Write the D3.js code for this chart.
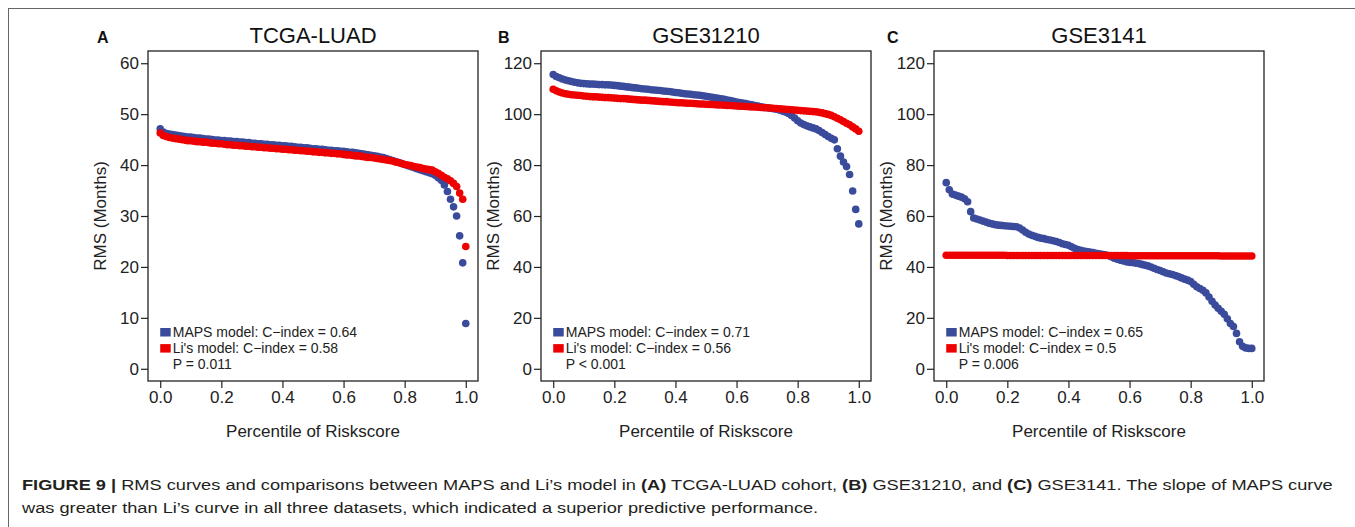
<!DOCTYPE html>
<html>
<head>
<meta charset="utf-8">
<script src="https://cdn.jsdelivr.net/npm/d3@7"></script>
<style>
body { margin: 0; background: #fff; }
text { font-family: "Liberation Sans", Arial, Helvetica, sans-serif; }
</style>
</head>
<body>
<div id="fig"></div>
<script>
// ------------------- DATA (RMS in months, one value per percentile 0.00 .. 1.00) -------------------

const tcgaMaps = [
  47.1, 46.5, 46.2, 46.1, 46.0, 45.9, 45.8, 45.7, 45.6, 45.5,
  45.5, 45.4, 45.3, 45.3, 45.2, 45.1, 45.1, 45.0, 44.9, 44.9,
  44.8, 44.8, 44.7, 44.7, 44.6, 44.6, 44.5, 44.5, 44.4, 44.4,
  44.3, 44.3, 44.2, 44.2, 44.1, 44.1, 44.0, 44.0, 43.9, 43.9,
  43.8, 43.8, 43.7, 43.7, 43.6, 43.5, 43.5, 43.4, 43.4, 43.3,
  43.2, 43.2, 43.1, 43.1, 43.0, 42.9, 42.9, 42.8, 42.8, 42.7,
  42.7, 42.6, 42.5, 42.5, 42.4, 42.3, 42.2, 42.1, 42.0, 41.9,
  41.8, 41.7, 41.6, 41.5, 41.3, 41.1, 40.9, 40.7, 40.5, 40.3,
  40.1, 39.9, 39.7, 39.5, 39.3, 39.1, 38.9, 38.7, 38.5, 38.3,
  38.0, 37.5, 37.0, 36.1, 34.8, 33.3, 31.8, 30.0, 26.1, 20.8,
  8.9
];
const tcgaLi = [
  46.3, 45.8, 45.6, 45.4, 45.3, 45.2, 45.1, 45.0, 44.9, 44.8,
  44.8, 44.7, 44.6, 44.6, 44.5, 44.5, 44.4, 44.3, 44.3, 44.2,
  44.2, 44.1, 44.0, 44.0, 43.9, 43.9, 43.8, 43.8, 43.7, 43.7,
  43.6, 43.6, 43.5, 43.5, 43.4, 43.4, 43.3, 43.3, 43.2, 43.2,
  43.1, 43.1, 43.0, 43.0, 42.9, 42.9, 42.8, 42.8, 42.7, 42.7,
  42.6, 42.6, 42.5, 42.5, 42.4, 42.4, 42.3, 42.3, 42.2, 42.2,
  42.1, 42.0, 42.0, 41.9, 41.8, 41.8, 41.7, 41.6, 41.5, 41.5,
  41.4, 41.3, 41.2, 41.1, 41.0, 40.9, 40.8, 40.6, 40.5, 40.3,
  40.1, 40.0, 39.9, 39.7, 39.6, 39.5, 39.3, 39.2, 39.1, 39.0,
  38.7, 38.4, 38.0, 37.6, 37.3, 36.9, 36.4, 35.8, 34.5, 33.3,
  24.0
];
const gse31210Maps = [
  115.6, 114.8, 114.3, 113.8, 113.4, 113.1, 112.8, 112.5, 112.3, 112.1,
  112.0, 111.9, 111.8, 111.8, 111.7, 111.6, 111.6, 111.5, 111.5, 111.4,
  111.3, 111.2, 111.0, 110.9, 110.7, 110.6, 110.4, 110.3, 110.2, 110.0,
  109.9, 109.8, 109.6, 109.5, 109.4, 109.3, 109.1, 109.0, 108.9, 108.7,
  108.5, 108.4, 108.2, 108.0, 107.9, 107.8, 107.6, 107.5, 107.4, 107.2,
  107.0, 106.8, 106.6, 106.4, 106.2, 106.0, 105.8, 105.5, 105.3, 105.0,
  104.8, 104.6, 104.4, 104.2, 103.9, 103.7, 103.4, 103.2, 102.9, 102.7,
  102.5, 102.3, 102.1, 101.9, 101.6, 101.2, 100.8, 100.3, 99.5, 98.5,
  97.4, 96.5, 95.9, 95.4, 95.0, 94.6, 94.2, 93.6, 92.8, 92.0,
  91.2, 90.5, 89.9, 86.4, 83.5, 81.2, 79.4, 76.3, 69.8, 62.6,
  56.9
];
const gse31210Li = [
  109.8, 109.2, 108.7, 108.3, 108.0, 107.8, 107.6, 107.5, 107.4, 107.3,
  107.1, 107.0, 106.9, 106.8, 106.8, 106.7, 106.6, 106.5, 106.5, 106.4,
  106.3, 106.2, 106.1, 106.1, 106.0, 105.9, 105.8, 105.7, 105.6, 105.5,
  105.5, 105.4, 105.3, 105.2, 105.1, 105.0, 104.9, 104.9, 104.8, 104.7,
  104.6, 104.5, 104.5, 104.4, 104.3, 104.3, 104.2, 104.1, 104.0, 104.0,
  103.9, 103.8, 103.8, 103.7, 103.6, 103.6, 103.5, 103.4, 103.4, 103.3,
  103.2, 103.1, 103.1, 103.0, 102.9, 102.8, 102.8, 102.7, 102.6, 102.5,
  102.5, 102.4, 102.3, 102.2, 102.1, 102.0, 101.9, 101.8, 101.7, 101.6,
  101.5, 101.4, 101.3, 101.2, 101.1, 101.0, 100.9, 100.7, 100.5, 100.2,
  99.9, 99.5, 99.0, 98.4, 97.8, 97.1, 96.4, 95.8, 95.0, 94.2,
  93.3
];
const gse3141Maps = [
  73.1, 70.3, 68.6, 68.2, 67.8, 67.4, 66.8, 65.6, 61.7, 59.2,
  58.8, 58.4, 58.0, 57.6, 57.2, 56.9, 56.6, 56.4, 56.3, 56.2,
  56.1, 56.0, 55.9, 55.8, 55.3, 54.5, 53.6, 52.9, 52.4, 52.0,
  51.6, 51.3, 51.1, 50.8, 50.6, 50.3, 50.0, 49.6, 49.1, 48.8,
  48.5, 47.9, 47.3, 46.8, 46.5, 46.2, 46.0, 45.8, 45.6, 45.4,
  45.2, 45.0, 44.8, 44.5, 44.0, 43.4, 43.0, 42.6, 42.3, 42.0,
  41.8, 41.7, 41.5, 41.3, 41.0, 40.7, 40.4, 40.0, 39.5, 39.0,
  38.6, 38.1, 37.6, 37.3, 37.0, 36.6, 36.2, 35.7, 35.2, 34.8,
  34.3, 33.2, 32.2, 31.5, 30.8, 29.8, 28.2, 26.5, 25.0, 23.8,
  22.6, 21.4, 19.6, 17.8, 16.6, 13.9, 10.6, 8.8, 8.2, 8.0,
  8.0
];
const gse3141Li = [
  44.6, 44.6, 44.6, 44.6, 44.6, 44.6, 44.6, 44.6, 44.6, 44.6,
  44.6, 44.6, 44.6, 44.6, 44.6, 44.6, 44.6, 44.6, 44.6, 44.6,
  44.5, 44.5, 44.5, 44.5, 44.5, 44.5, 44.5, 44.5, 44.5, 44.5,
  44.5, 44.5, 44.5, 44.5, 44.5, 44.5, 44.5, 44.5, 44.5, 44.5,
  44.5, 44.5, 44.5, 44.5, 44.5, 44.5, 44.5, 44.5, 44.5, 44.5,
  44.5, 44.5, 44.5, 44.5, 44.5, 44.5, 44.5, 44.5, 44.5, 44.5,
  44.4, 44.4, 44.4, 44.4, 44.4, 44.4, 44.4, 44.4, 44.4, 44.4,
  44.4, 44.4, 44.4, 44.4, 44.4, 44.4, 44.4, 44.4, 44.4, 44.4,
  44.4, 44.4, 44.4, 44.4, 44.4, 44.4, 44.4, 44.4, 44.4, 44.4,
  44.3, 44.3, 44.3, 44.3, 44.3, 44.3, 44.3, 44.3, 44.3, 44.3,
  44.3
];

const panelLetters = ["A", "B", "C"];
const panelTitles = ["TCGA-LUAD", "GSE31210", "GSE3141"];
const mapsSeries = [tcgaMaps, gse31210Maps, gse3141Maps];
const liSeries = [tcgaLi, gse31210Li, gse3141Li];
const mapsCIndex = ["0.64", "0.71", "0.65"];
const liCIndex = ["0.58", "0.56", "0.5"];
const pValues = ["P = 0.011", "P < 0.001", "P = 0.006"];
const yTickSets = [[0, 10, 20, 30, 40, 50, 60], [0, 20, 40, 60, 80, 100, 120], [0, 20, 40, 60, 80, 100, 120]];
const xTicks = [0, 0.2, 0.4, 0.6, 0.8, 1.0];

// ------------------- LAYOUT -------------------

const W = 1355, H = 527;
const boxLefts = [148, 541, 934];
const letterX = [97, 498, 887];
const boxW = 330, boxTop = 51, boxBottom = 381;
const blue = "#3a4b9c", red = "#ee0000";
const ink = "#222";

const svg = d3.select("#fig")
              .append("svg")
              .attr("width", W)
              .attr("height", H)

// outer frame (only top and left are inside the window)
svg.append("rect")
   .attr("x", 8.5).attr("y", 8.5)
   .attr("width", W + 50).attr("height", H + 50)
   .attr("fill", "none")
   .attr("stroke", "#666")
   .attr("stroke-width", 1)

panelTitles.forEach((title, i) => {
    const left = boxLefts[i];
    const yMax = d3.max(yTickSets[i]);
    const x = d3.scaleLinear().domain([-0.04, 1.04]).range([left, left + boxW]);
    const y = d3.scaleLinear().domain([-0.04 * yMax, 1.04 * yMax]).range([boxBottom, boxTop]);
    const g = svg.append("g");

    // x axis
    const xa = g.append("g")
                .attr("transform", "translate(0," + boxBottom + ")")
                .call(d3.axisBottom(x).tickValues(xTicks).tickFormat(d3.format(".1f")).tickSize(7).tickPadding(3));
    xa.select(".domain").remove();
    xa.selectAll("line").attr("stroke", ink).attr("stroke-width", 1.2);
    xa.selectAll("text").attr("font-size", 17).attr("fill", ink)
      .style("font-family", '"Liberation Sans", Arial, sans-serif');

    // y axis
    const ya = g.append("g")
                .attr("transform", "translate(" + left + ",0)")
                .call(d3.axisLeft(y).tickValues(yTickSets[i]).tickSize(7).tickPadding(2));
    ya.select(".domain").remove();
    ya.selectAll("line").attr("stroke", ink).attr("stroke-width", 1.2);
    ya.selectAll("text").attr("font-size", 17).attr("fill", ink)
      .style("font-family", '"Liberation Sans", Arial, sans-serif');

    // points: MAPS first, Li on top
    [[mapsSeries[i], blue], [liSeries[i], red]].forEach(([vals, col]) => {
        g.append("g")
         .selectAll("circle")
         .data(vals)
         .enter()
         .append("circle")
         .attr("cx", (v, k) => x(k / (vals.length - 1)))
         .attr("cy", v => y(v))
         .attr("r", 3.8)
         .attr("fill", col)
    });

    // plot box
    g.append("rect")
     .attr("x", left).attr("y", boxTop)
     .attr("width", boxW).attr("height", boxBottom - boxTop)
     .attr("fill", "none")
     .attr("stroke", ink)
     .attr("stroke-width", 1.3)

    // legend
    const lx = x(0);
    const rows = [
        { col: blue, label: "MAPS model: C\u2212index = " + mapsCIndex[i] },
        { col: red, label: "Li's model: C\u2212index = " + liCIndex[i] },
        { col: null, label: pValues[i] }
    ];
    rows.forEach((r, k) => {
        const cy = 332 + k * 16.1;
        if (r.col) {
            g.append("rect")
             .attr("x", lx).attr("y", cy - 4)
             .attr("width", 10.5).attr("height", 8.5)
             .attr("fill", r.col)
        }
        g.append("text")
         .attr("x", lx + 12.5).attr("y", cy + 4.8)
         .attr("font-size", 14)
         .attr("fill", ink)
         .text(r.label)
    });

    // title, letter, axis labels
    g.append("text")
     .attr("x", left + boxW / 2).attr("y", 43)
     .attr("text-anchor", "middle")
     .attr("font-size", 22)
     .attr("fill", "#111")
     .text(title)

    g.append("text")
     .attr("x", letterX[i]).attr("y", 43)
     .attr("font-size", 16)
     .attr("font-weight", "bold")
     .attr("fill", "#111")
     .text(panelLetters[i])

    g.append("text")
     .attr("transform", "translate(" + (left - 42) + "," + ((boxTop + boxBottom) / 2) + ") rotate(-90)")
     .attr("text-anchor", "middle")
     .attr("font-size", 17)
     .attr("fill", ink)
     .text("RMS (Months)")

    g.append("text")
     .attr("x", left + boxW / 2).attr("y", 437)
     .attr("text-anchor", "middle")
     .attr("font-size", 17)
     .attr("fill", ink)
     .text("Percentile of Riskscore")
});

// ------------------- CAPTION -------------------

const captionLine1 = [
    ["FIGURE 9 |", true],
    [" RMS curves and comparisons between MAPS and Li\u2019s model in ", false],
    ["(A)", true],
    [" TCGA-LUAD cohort, ", false],
    ["(B)", true],
    [" GSE31210, and ", false],
    ["(C)", true],
    [" GSE3141. The slope of MAPS curve", false]
];
const captionLine2 = "was greater than Li\u2019s curve in all three datasets, which indicated a superior predictive performance.";

const cap = svg.append("g").attr("transform", "translate(22,0)");
const l1 = cap.append("text").attr("y", 490).attr("font-size", 15.5).attr("fill", "#231f20");
captionLine1.forEach(([s, b]) => {
    l1.append("tspan").attr("font-weight", b ? "bold" : "normal").text(s);
});
cap.append("text").attr("y", 513).attr("font-size", 15.5).attr("fill", "#231f20").text(captionLine2);

// stretch caption horizontally to the reference line width
const w1 = l1.node().getComputedTextLength();
cap.attr("transform", "translate(22,0) scale(" + (1311 / w1) + ",1)");
</script>
</body>
</html>
